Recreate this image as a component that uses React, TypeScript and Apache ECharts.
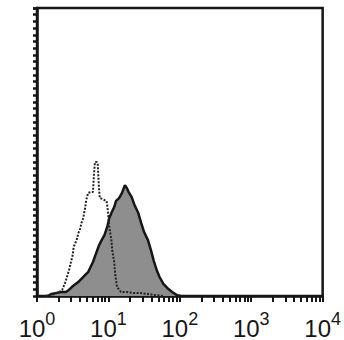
import React, { useEffect, useRef } from "react";
import * as echarts from "echarts";

// Stained sample (filled histogram): fluorescence (log scale) and relative counts
const stainedX = [1.41, 1.6, 1.81, 2.18, 2.54, 2.79, 3.07, 3.47, 3.81, 4.32, 4.74, 5.2, 5.54, 6.08, 6.67, 7.33, 8.04, 8.83, 9.69, 10.3, 11.0, 12.05, 12.8, 14.1, 15.5, 17.0, 18.1, 19.2, 21.1, 23.2, 26.2, 28.8, 31.6, 35.8, 39.3, 43.2, 47.4, 52.0, 58.9, 66.7, 78.0, 91.1, 103];
const stainedY = [0, 0.7, 1.0, 1.4, 1.4, 2.1, 3.1, 4.2, 4.9, 6.3, 7.3, 8.3, 9.7, 11.8, 14.6, 17.4, 19.4, 21.2, 24.3, 27.1, 28.8, 30.9, 33.0, 34.0, 35.8, 38.5, 37.5, 36.1, 34.4, 31.6, 28.8, 25.3, 22.2, 19.4, 16.0, 12.2, 9.0, 6.6, 4.2, 2.8, 1.4, 0.3, 0];

// Control sample (dotted histogram)
const controlX = [1.32, 1.5, 1.75, 2.05, 2.25, 2.47, 2.62, 2.79, 2.97, 3.16, 3.26, 3.58, 3.81, 4.06, 4.18, 4.45, 4.74, 4.89, 5.2, 5.71, 6.08, 6.27, 6.47, 6.89, 7.1, 7.33, 7.56, 8.3, 8.83, 9.4, 9.69, 10.3, 11.0, 11.3, 12.05, 12.4, 13.2, 15.0, 18.1, 22.5, 28.8, 35.8, 45.9, 58.9];
const controlY = [0, 0.3, 0.7, 1.4, 2.1, 4.5, 6.6, 8.7, 11.5, 14.2, 17.0, 19.4, 21.9, 23.6, 25.3, 27.1, 30.9, 33.3, 35.8, 36.1, 36.1, 42.0, 46.5, 46.5, 45.5, 38.5, 34.0, 33.7, 33.3, 33.0, 30.9, 24.0, 19.4, 16.0, 11.8, 8.0, 3.1, 1.4, 1.4, 1.0, 1.0, 0.7, 0.3, 0];

// Axis ticks
const majorTicks = [1, 10, 100, 1000, 10000];
const tickExponents = ["0", "1", "2", "3", "4"];
const minorTicks = [2, 3, 4, 5, 6, 7, 8, 9, 20, 30, 40, 50, 60, 70, 80, 90, 200, 300, 400, 500, 600, 700, 800, 900, 2000, 3000, 4000, 5000, 6000, 7000, 8000, 9000];
const yMax = 100;
const yTickCount = 43;

const ink = "#161616";

export default function App() {
  const ref = useRef<HTMLDivElement>(null);
  useEffect(() => {
    if (!ref.current) return;
    const chart = echarts.init(ref.current, null, { renderer: "svg" });
    const stained = stainedX.map((x, i) => [x, stainedY[i]]);
    const control = controlX.map((x, i) => [x, controlY[i]]);
    const allTicks = majorTicks.concat(minorTicks).sort((a, b) => a - b);
    chart.setOption({
      animation: false,
      backgroundColor: "#ffffff",
      grid: {
        left: 37,
        right: 11,
        top: 8,
        bottom: 44,
        show: true,
        borderColor: ink,
        borderWidth: 2.5,
        containLabel: false,
      },
      xAxis: {
        type: "log",
        logBase: 10,
        min: 1,
        max: 10000,
        position: "bottom",
        axisLine: { show: true, onZero: false, lineStyle: { color: ink, width: 2.5 } },
        axisTick: { show: true, length: 6, customValues: allTicks, lineStyle: { color: ink, width: 2 } },
        splitLine: { show: false },
        axisLabel: {
          show: true,
          customValues: majorTicks,
          margin: 14,
          formatter: (v: number) => {
            const idx = majorTicks.indexOf(v);
            const e = idx >= 0 ? tickExponents[idx] : String(Math.round(Math.log10(v)));
            return `{b|10}{s|${e}}`;
          },
          rich: {
            b: { fontSize: 24, fontFamily: "Liberation Sans", color: ink, lineHeight: 36 },
            s: { fontSize: 18, fontFamily: "Liberation Sans", color: ink, lineHeight: 16, verticalAlign: "top" },
          },
        },
      },
      yAxis: {
        type: "value",
        min: 0,
        max: yMax,
        interval: yMax / yTickCount,
        axisLine: { show: true, lineStyle: { color: ink, width: 2.5 } },
        axisTick: { show: true, length: 4, lineStyle: { color: ink, width: 2.5 } },
        axisLabel: { show: false },
        splitLine: { show: false },
      },
      series: [
        {
          type: "line",
          data: stained,
          symbol: "none",
          lineStyle: { color: ink, width: 2.5 },
          areaStyle: { color: "#8e8e8e", opacity: 1 },
        },
        {
          type: "line",
          data: control,
          symbol: "none",
          lineStyle: { color: "#222222", width: 2, type: [2, 1.5] },
        },
      ],
    });
    return () => chart.dispose();
  }, []);
  return <div ref={ref} style={{ position: "fixed", left: 0, top: 0, width: 344, height: 340 }} />;
}
